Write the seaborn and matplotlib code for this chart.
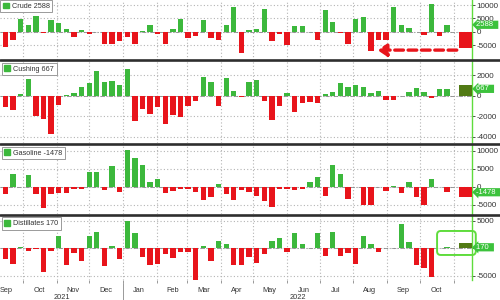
import matplotlib
matplotlib.use("Agg")
import matplotlib.pyplot as plt
import matplotlib.dates as mdates
import matplotlib.transforms as mtrans
from matplotlib.patches import Patch, FancyBboxPatch
from matplotlib.lines import Line2D
from matplotlib.ticker import FixedLocator, FixedFormatter
import numpy as np
import pandas as pd
import seaborn as sns

# ---------------- data (weekly EIA changes, thousand barrels) ----------------
first_report = "2021-09-08"          # weekly report dates (Wednesdays)
n_weeks = 60
crude = [-600, -5900, -3000, 4800, 2500, 6000, -500, 4300, 3400, 1000,
         -1800, 800, -700, -300, -4600, -4500, -3400, -1800, -4500, 200,
         2500, -900, -4700, 1000, 4600, -2500, -1600, 4300, -2500, -3100,
         2500, 9300, -7800, 600, 1000, 8500, -3500, -1000, -5000, 2200,
         2200, -300, -3000, 8200, 3500, -400, -4500, 4600, 5600, -7100,
         -3200, -3200, 9100, 2500, 1200, -150, -1200, 10400, -1600, 2588]
cushing = [1600, -1140, -1400, 200, 1630, -1950, -2280, -3700, -900, 50,
           250, 800, 1200, 2370, 1370, 1460, 1070, 2600, -2440, -1300,
           -1800, -1140, -2760, -1900, -2050, -980, -550, 1790, 1300, -980,
           1700, 490, -160, 1350, 1500, -480, -2350, -970, 300, -1550,
           -740, -580, -740, 160, 390, 1190, 800, 1030, 800, 290,
           480, -420, -420, -50, 390, 720, 390, -260, 650, 667]
gasoline = [-5500, -1900, 3500, -100, 3300, -2100, -5700, -2100, -1600, -1600,
            -700, -500, 4000, 4000, -750, 5700, -1400, 10300, 8100, 6000,
            1400, 2100, -1700, -1200, -700, -500, -1400, -3600, -2900, 750,
            -1900, -3600, -750, -1400, -2400, -3800, -5500, -700, -700, -800,
            -700, 1400, 2600, -2400, 6100, 3600, -3400, 100, -5000, -5000,
            -100, -1200, 200, -1700, 1400, -2700, -5100, 2100, -100, -1478]
distillates = [-3650, -1900, -2900, 300, -450, -100, -4400, -580, 2300, -3000,
               -960, -2240, 2300, 2950, -3200, 320, -1900, 4870, 2760, -1600,
               -3140, -2800, -1100, -1730, -640, -640, -5900, 380, -2370, 1350,
               830, -3140, -3000, -1540, -2700, -1100, 1280, 1800, -640, 2760,
               700, -50, 2760, -1400, 2950, -1400, -960, -2800, 2300, 700,
               -770, -50, 50, 4450, 1200, -3050, -3650, -5150, -50, 170]
series_names = ["Crude", "Cushing", "Gasoline", "Distillates"]
latest_labels = ["2588", "667", "-1478", "170"]
highlight_date = "2022-11-12"
highlight_vals = [-6200, 1040, -2850, 1000]
x_start, x_end = "2021-09-10", "2022-11-18"
yticks = [[10000, 5000, 0, -5000], [2000, 0, -2000, -4000],
          [10000, 5000, 0, -5000], [5000, 0, -5000]]
ytick_labels = [["10000", "5000", "0", "-5000"], ["2000", "0", "-2000", "-4000"],
                ["10000", "5000", "0", "-5000"], ["5000", "", "-5000"]]

# ---------------- styling ----------------
GREEN = "#3cb83c"
RED = "#e8141b"
OLIVE = "#517a14"
LIME = "#5fdc3c"
TAG = "#3cc23c"
GRID = "#b4b4b4"
TXT = "#333333"

sns.set_theme(style="white")
plt.rcParams['font.family'] = ['Liberation Sans', 'DejaVu Sans']

dates = pd.date_range(first_report, periods=n_weeks, freq="7D")
xnum = mdates.date2num(dates)
xlo, xhi = mdates.date2num(pd.Timestamp(x_start)), mdates.date2num(pd.Timestamp(x_end))
hl_x = mdates.date2num(pd.Timestamp(highlight_date))
months = pd.period_range(dates[0], dates[-1], freq="M")
month_mid = mdates.date2num(months.to_timestamp() + pd.Timedelta(days=15))
month_lab = [m.strftime("%b") for m in months]

fig = plt.figure(figsize=(5, 3), dpi=100)
W, H = 500.0, 300.0
right_px = 472.0
panels_px = [(0.0, 59.5), (61.0, 142.5), (145.0, 213.5), (215.5, 280.0)]
ylims = [(-10420, 11880), (-4560, 3380), (-7350, 11570), (-5780, 5950)]
all_vals = [crude, cushing, gasoline, distillates]
hl_colors = [RED, OLIVE, RED, OLIVE]
legend_pad = [0.0, 0.25, 0.25, 0.25]

axes = []
for k, (top, bot) in enumerate(panels_px):
    ax = fig.add_axes([0, 1 - bot / H, right_px / W, (bot - top) / H])
    axes.append(ax)
    vals = np.array(all_vals[k])
    df = pd.DataFrame({"x": xnum, "v": vals,
                       "s": np.where(vals >= 0, "up", "down")})
    sns.barplot(data=df, x="x", y="v", hue="s",
                palette={"up": GREEN, "down": RED},
                native_scale=True, dodge=False, width=0.7, saturation=1,
                errorbar=None, legend=False, linewidth=0, ax=ax, zorder=3)
    hdf = pd.DataFrame({"x": [hl_x], "v": [highlight_vals[k]]})
    sns.barplot(data=hdf, x="x", y="v", native_scale=True, width=11.3,
                color=hl_colors[k], saturation=1, errorbar=None,
                linewidth=0, ax=ax, zorder=3)

    ax.set_xlim(xlo, xhi)
    ax.set_ylim(*ylims[k])
    ax.set_xlabel("")
    ax.set_ylabel("")
    ax.set_facecolor("white")
    for s in ["top", "left", "bottom"]:
        ax.spines[s].set_visible(False)
    ax.spines["right"].set_color(LIME)
    ax.spines["right"].set_linewidth(1.0)

    # x axis: gridlines at month starts, labels mid-month
    ax.xaxis.set_major_locator(mdates.MonthLocator())
    ax.xaxis.set_major_formatter(plt.NullFormatter())
    ax.xaxis.set_minor_locator(FixedLocator(month_mid))
    ax.xaxis.set_minor_formatter(FixedFormatter(month_lab))
    ax.grid(axis="x", which="major", color=GRID, linestyle=(0, (1, 2)), lw=0.8)
    ax.set_yticks(yticks[k])
    ax.set_yticklabels(ytick_labels[k])
    ax.grid(axis="y", which="major", color=GRID, linestyle=(0, (1, 2)), lw=0.8)
    ax.set_axisbelow(True)
    ax.axhline(0, color="#8a8a8a", lw=0.6, ls=(0, (5, 2, 1, 2)), zorder=1)

    ax.yaxis.tick_right()
    ax.tick_params(axis="y", which="both", labelsize=5.8, length=2, width=0.6,
                   pad=1.5, colors=TXT, right=True, left=False)
    if k < 3:
        ax.tick_params(axis="x", which="both", bottom=False, labelbottom=False)
    else:
        ax.tick_params(axis="x", which="major", bottom=True, length=2.5,
                       width=0.6, color="#888888")
        ax.tick_params(axis="x", which="minor", bottom=True, length=0,
                       labelsize=5.3, pad=5, labelcolor=TXT)

    # legend box
    ax.legend(handles=[Patch(color=GREEN, label=f"{series_names[k]} {latest_labels[k]}")],
              loc="upper left", bbox_to_anchor=(0, 1), frameon=True,
              fontsize=5.2, handlelength=0.85, handleheight=0.85,
              handletextpad=0.4, borderpad=0.35, borderaxespad=legend_pad[k],
              fancybox=False, edgecolor="#9a9a9a", framealpha=1)
    ax.get_legend().get_frame().set_linewidth(0.7)
    ax.get_legend().get_texts()[0].set_color(TXT)

    # latest value tag on right axis
    last = all_vals[k][-1]
    ax.annotate(latest_labels[k] + "  ", xy=(1, last),
                xycoords=ax.get_yaxis_transform(), xytext=(3.2, 0),
                textcoords="offset points", va="center", ha="left",
                fontsize=5.5, color="white", zorder=10, annotation_clip=False,
                bbox=dict(boxstyle="larrow,pad=0.08", fc=TAG, ec="none"))

# crude annotation arrow
axes[0].annotate("", xy=(mdates.date2num(pd.Timestamp("2022-08-23")), -6900),
                 xytext=(mdates.date2num(pd.Timestamp("2022-11-04")), -6900),
                 arrowprops=dict(arrowstyle="-|>,head_length=0.45,head_width=0.3",
                                 color=RED, lw=2.4, linestyle=(0, (2.6, 1.4)),
                                 shrinkA=0, shrinkB=0), zorder=6)

# distillates highlight box
ax4 = axes[3]
box = FancyBboxPatch((0.926, 0.388), 0.082, 0.372,
                     boxstyle="round,pad=0,rounding_size=0.008",
                     mutation_aspect=472 / 64.5, transform=ax4.transAxes,
                     fill=False, ec=LIME, lw=1.4, clip_on=False, zorder=8)
ax4.add_patch(box)

# year labels and separator
jan1 = mdates.date2num(pd.Timestamp("2022-01-01"))
blend = mtrans.blended_transform_factory(ax4.transData, ax4.transAxes)
ax4.text((xlo + jan1) / 2, -0.265, "2021", transform=blend, ha="center",
         va="center", fontsize=5.3, color=TXT)
ax4.text((jan1 + xhi) / 2, -0.265, "2022", transform=blend, ha="center",
         va="center", fontsize=5.3, color=TXT)
ax4.add_line(Line2D([jan1, jan1], [-0.05, -0.32], transform=blend,
                    color="#999999", lw=0.7, clip_on=False))

# panel separators
for y in [60.2, 143.8, 214.6]:
    fig.add_artist(Line2D([0, 1], [1 - y / H, 1 - y / H], transform=fig.transFigure,
                          color="#2e2e2e", lw=1.9))

fig.savefig("out.png", dpi=100, facecolor="white")
